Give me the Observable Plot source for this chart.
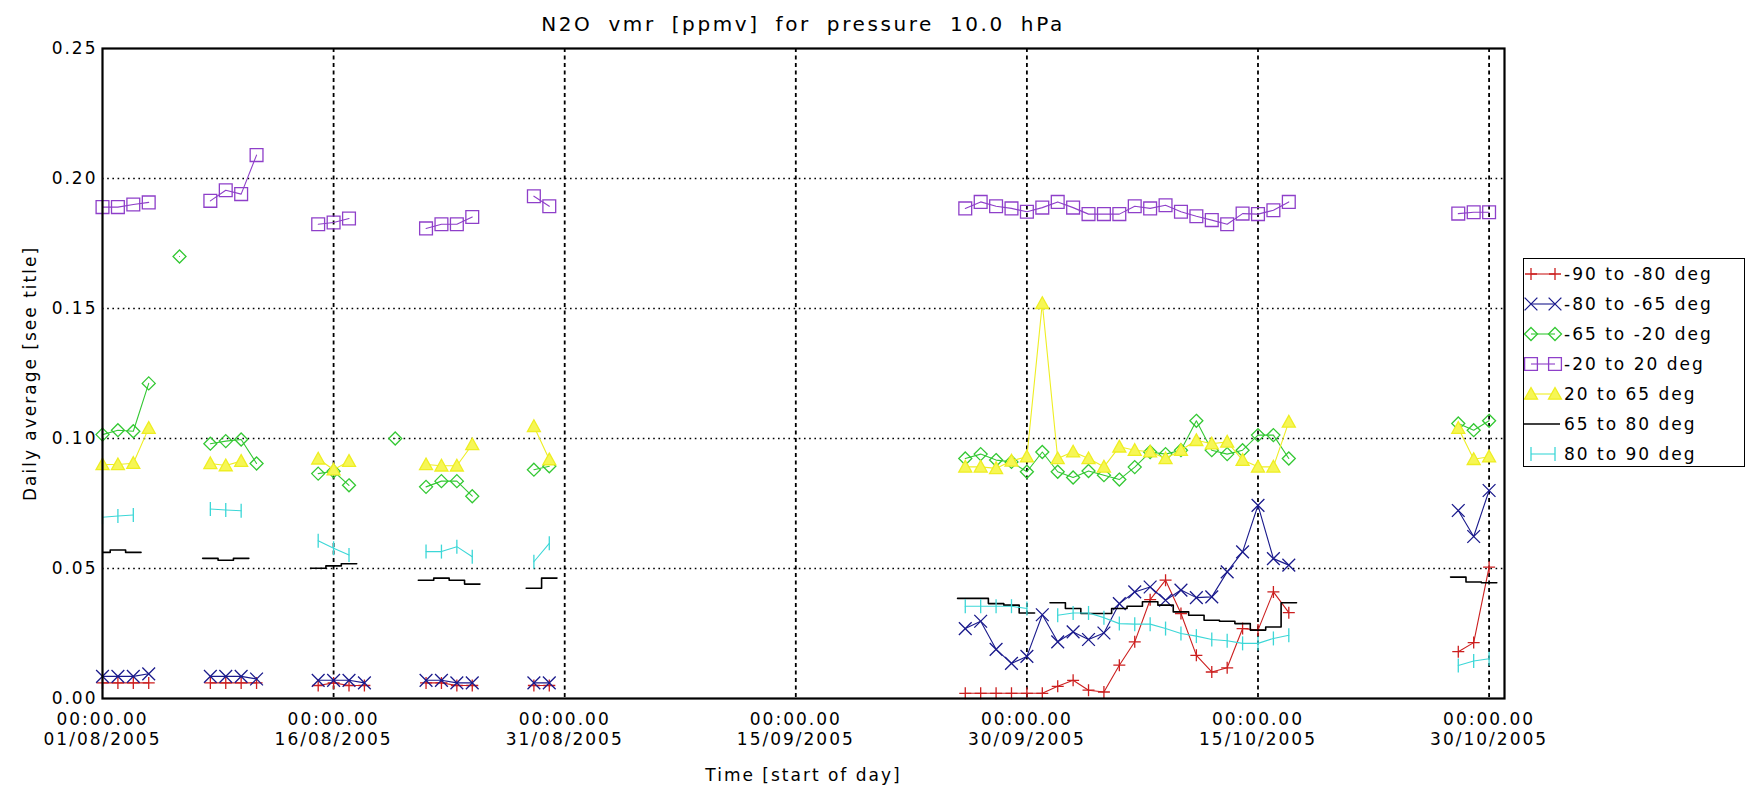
<!DOCTYPE html>
<html><head><meta charset="utf-8">
<script src="https://cdn.jsdelivr.net/npm/d3@7"></script>
<script src="https://cdn.jsdelivr.net/npm/@observablehq/plot@0.6"></script>
<style>
body{margin:0;background:#fff;}
#wrap{position:relative;width:1756px;height:787px;font-family:"DejaVu Sans",sans-serif;color:#000;overflow:hidden;}
#title{height:40px;box-sizing:border-box;padding-top:13px;margin-left:102px;width:1402px;text-align:center;font-size:20px;line-height:22px;letter-spacing:2.6px;word-spacing:7px;white-space:pre;}
#chart svg text{letter-spacing:2px;}
#legend{position:absolute;left:1523px;top:258px;width:222px;height:209px;border:1.5px solid #000;box-sizing:border-box;font-size:17px;letter-spacing:2px;background:#fff;}
.row{position:absolute;left:0;height:30px;width:100%;}
.row svg{position:absolute;left:0;top:0;}
.row span{position:absolute;left:40px;top:0;line-height:30px;white-space:pre;}
</style></head>
<body>
<div id="wrap">
  <div id="title">N2O vmr [ppmv] for pressure 10.0 hPa</div>
  <div id="chart"></div>
  <div id="legend"></div>
</div>
<script>
// ---- data ----
const seriesNames = ["-90 to -80 deg", "-80 to -65 deg", "-65 to -20 deg", "-20 to 20 deg", "20 to 65 deg", "65 to 80 deg", "80 to 90 deg"];
const seriesColors = ["#cc1f1f", "#1a1a8c", "#33c833", "#8e3fc9", "#eeee22", "#000000", "#3cd7d7"];

// each entry: [first day of a run of consecutive daily values, values]
const lat90to80S = [
  ["2005-08-01", [0.006, 0.006, 0.006, 0.006]],
  ["2005-08-08", [0.006, 0.006, 0.006, 0.006]],
  ["2005-08-15", [0.005, 0.006, 0.005, 0.005]],
  ["2005-08-22", [0.006, 0.006, 0.005, 0.005]],
  ["2005-08-29", [0.005, 0.005]],
  ["2005-09-26", [0.002, 0.002, 0.002, 0.002, 0.002, 0.002, 0.0047, 0.007, 0.0032, 0.0025, 0.0128, 0.0218, 0.038, 0.0455, 0.0327, 0.0166, 0.0102, 0.0118, 0.0269, 0.0263, 0.041, 0.0330]],
  ["2005-10-28", [0.018, 0.0215, 0.0505]]
];
const lat80to65S = [
  ["2005-08-01", [0.0085, 0.0085, 0.0085, 0.0095]],
  ["2005-08-08", [0.0085, 0.0085, 0.0085, 0.0075]],
  ["2005-08-15", [0.007, 0.007, 0.007, 0.006]],
  ["2005-08-22", [0.007, 0.007, 0.006, 0.006]],
  ["2005-08-29", [0.006, 0.006]],
  ["2005-09-26", [0.0269, 0.0297, 0.0189, 0.0135, 0.0162, 0.0322, 0.0218, 0.0256, 0.0227, 0.0252, 0.0365, 0.041, 0.0429, 0.0378, 0.0417, 0.0388, 0.0391, 0.0487, 0.0564, 0.0743, 0.0538, 0.0513]],
  ["2005-10-28", [0.0723, 0.0623, 0.080]]
];
const lat65to20S = [
  ["2005-08-01", [0.1015, 0.1032, 0.1028, 0.1212]],
  ["2005-08-06", [0.170]],
  ["2005-08-08", [0.098, 0.099, 0.0996, 0.0904]],
  ["2005-08-15", [0.0865, 0.0874, 0.082]],
  ["2005-08-20", [0.100]],
  ["2005-08-22", [0.0814, 0.0836, 0.0836, 0.0778]],
  ["2005-08-29", [0.088, 0.0893]],
  ["2005-09-26", [0.0923, 0.094, 0.0917, 0.091, 0.0872, 0.0948, 0.0872, 0.085, 0.0875, 0.0859, 0.0842, 0.089, 0.0948, 0.094, 0.0955, 0.1068, 0.0955, 0.094, 0.0955, 0.1013, 0.1013, 0.0923]],
  ["2005-10-28", [0.1058, 0.1032, 0.1068]]
];
const lat20Sto20N = [
  ["2005-08-01", [0.189, 0.189, 0.190, 0.1908]],
  ["2005-08-08", [0.1914, 0.1955, 0.194, 0.209]],
  ["2005-08-15", [0.1824, 0.1831, 0.1846]],
  ["2005-08-22", [0.1808, 0.1824, 0.1824, 0.1852]],
  ["2005-08-29", [0.1932, 0.1893]],
  ["2005-09-26", [0.1885, 0.1910, 0.1893, 0.1885, 0.1872, 0.1888, 0.1910, 0.1888, 0.1863, 0.1863, 0.1863, 0.1893, 0.1885, 0.1897, 0.1872, 0.1855, 0.1840, 0.1824, 0.1865, 0.1863, 0.1878, 0.1910]],
  ["2005-10-28", [0.1865, 0.187, 0.187]]
];
const lat20to65N = [
  ["2005-08-01", [0.090, 0.090, 0.0905, 0.104]],
  ["2005-08-08", [0.0904, 0.0896, 0.0913]],
  ["2005-08-15", [0.0922, 0.088, 0.0913]],
  ["2005-08-22", [0.090, 0.0895, 0.0895, 0.0977]],
  ["2005-08-29", [0.1047, 0.0919]],
  ["2005-09-26", [0.0891, 0.0891, 0.0885, 0.0914, 0.093, 0.152, 0.0923, 0.0949, 0.0923, 0.0891, 0.0968, 0.0955, 0.0949, 0.0923, 0.0955, 0.0993, 0.098, 0.0987, 0.0917, 0.0891, 0.0891, 0.1064]],
  ["2005-10-28", [0.104, 0.092, 0.093]]
];
const lat65to80N = [
  ["2005-08-01", [0.0562, 0.0571, 0.0562]],
  ["2005-08-08", [0.0539, 0.0532, 0.0539]],
  ["2005-08-15", [0.0501, 0.051, 0.0518]],
  ["2005-08-22", [0.0455, 0.0463, 0.0455, 0.044]],
  ["2005-08-29", [0.0424, 0.0463]],
  ["2005-09-26", [0.0385, 0.0385, 0.0365, 0.0359, 0.0329]],
  ["2005-10-02", [0.0368, 0.0346, 0.0327, 0.0327, 0.0346, 0.0355, 0.0372, 0.0359, 0.0333, 0.032, 0.0301, 0.0297, 0.0288, 0.0263, 0.0275, 0.0368]],
  ["2005-10-28", [0.0467, 0.0448, 0.0445]]
];
const lat80to90N = [
  ["2005-08-01", [0.0697, 0.0702, 0.0706]],
  ["2005-08-08", [0.0729, 0.0725, 0.0722]],
  ["2005-08-15", [0.0607, 0.0578, 0.0552]],
  ["2005-08-22", [0.0565, 0.0565, 0.0584, 0.0545]],
  ["2005-08-29", [0.0526, 0.0597]],
  ["2005-09-26", [0.0355, 0.0355, 0.0355, 0.0355, 0.0346]],
  ["2005-10-02", [0.032, 0.0329, 0.0329, 0.0311, 0.0288, 0.0286, 0.0286, 0.0269, 0.025, 0.024, 0.0227, 0.0222, 0.0212, 0.0212, 0.0231, 0.0243]],
  ["2005-10-28", [0.0127, 0.0144, 0.0153]]
];

const xTickDates = ["2005-08-01", "2005-08-16", "2005-08-31", "2005-09-15", "2005-09-30", "2005-10-15", "2005-10-30"];
const yTicks = [0, 0.05, 0.10, 0.15, 0.20, 0.25];
const xDomain = ["2005-08-01", "2005-10-31"];

// ---- build ----
const allSeries = [lat90to80S, lat80to65S, lat65to20S, lat20Sto20N, lat20to65N, lat65to80N, lat80to90N];
const DAY = 864e5;

// custom marker shapes; radius taken from the dot size
const rad = s => Math.sqrt(s / Math.PI);
const symbols = {
  plus: {draw(c, s) { const r = rad(s); c.moveTo(-r, 0); c.lineTo(r, 0); c.moveTo(0, -r); c.lineTo(0, r); }},
  times: {draw(c, s) { const r = rad(s) * 0.75; c.moveTo(-r, -r); c.lineTo(r, r); c.moveTo(-r, r); c.lineTo(r, -r); }},
  diamond: {draw(c, s) { const r = rad(s); c.moveTo(0, -r); c.lineTo(r, 0); c.lineTo(0, r); c.lineTo(-r, 0); c.closePath(); }},
  square: {draw(c, s) { const r = rad(s) * 0.8; c.rect(-r, -r, 2 * r, 2 * r); }},
  triangle: {draw(c, s) { const r = rad(s); c.moveTo(0, -r); c.lineTo(r, r * 0.8); c.lineTo(-r, r * 0.8); c.closePath(); }},
  vbar: {draw(c, s) { const r = rad(s); c.moveTo(0, -r); c.lineTo(0, r); }}
};
const seriesSymbol = [symbols.plus, symbols.times, symbols.diamond, symbols.square, symbols.triangle, null, symbols.vbar];
const seriesR = [6, 8.5, 6.5, 8, 6.5, 0, 7];
const seriesFill = ["none", "none", "none", "none", "#f6f655", "none", "none"];

function toRows(segs, si) {
  const out = [];
  segs.forEach(([start, vals], k) => {
    const t0 = new Date(start).getTime();
    vals.forEach((v, i) => out.push({s: si, key: si + "-" + k, date: new Date(t0 + i * DAY), value: v}));
  });
  return out;
}
// histogram-style (step) rows: half a day extension at both ends of each run
function toStepRows(segs, si) {
  const out = [];
  segs.forEach(([start, vals], k) => {
    const t0 = new Date(start).getTime();
    const key = si + "-" + k;
    out.push({key, date: new Date(t0 - DAY / 2), value: vals[0]});
    vals.forEach((v, i) => out.push({key, date: new Date(t0 + i * DAY), value: v}));
    out.push({key, date: new Date(t0 + (vals.length - 0.5) * DAY), value: vals[vals.length - 1]});
  });
  return out;
}

const marks = [
  Plot.ruleY(yTicks.filter(v => v > 0 && v < 0.25), {stroke: "#000", strokeWidth: 1.3, strokeDasharray: "1.6,3.6"}),
  Plot.ruleX(xTickDates.slice(1).map(d => new Date(d)), {stroke: "#000", strokeWidth: 1.8, strokeDasharray: "4,3.5"})
];
allSeries.forEach((segs, si) => {
  const color = seriesColors[si];
  if (seriesSymbol[si] === null) {
    marks.push(Plot.line(toStepRows(segs, si), {x: "date", y: "value", z: "key", stroke: color, strokeWidth: 1.6, curve: "step", clip: true}));
  } else {
    const rows = toRows(segs, si);
    marks.push(Plot.line(rows, {x: "date", y: "value", z: "key", stroke: color, strokeWidth: 1.1, clip: true}));
    marks.push(Plot.dot(rows, {x: "date", y: "value", symbol: seriesSymbol[si], r: seriesR[si], stroke: color, fill: seriesFill[si], strokeWidth: 1.3}));
  }
});
marks.push(Plot.frame({stroke: "#000", strokeWidth: 2.2}));
marks.push(Plot.axisY({ticks: yTicks, tickSize: 0, tickPadding: 5, tickFormat: d3.format(".2f"),
  label: "Daily average [see title]", labelAnchor: "center", labelOffset: 79, labelArrow: "none", fontSize: 17}));
marks.push(Plot.axisX({ticks: xTickDates.map(d => new Date(d)), tickSize: 0, tickPadding: 12,
  tickFormat: d => "00:00.00\n" + d3.utcFormat("%d/%m/%Y")(d), lineHeight: 1.18,
  label: "Time [start of day]", labelAnchor: "center", labelOffset: 82, labelArrow: "none", fontSize: 17}));

const chart = Plot.plot({
  width: 1756, height: 747,
  marginLeft: 102, marginRight: 252, marginTop: 8, marginBottom: 89,
  style: {fontFamily: "DejaVu Sans", fontSize: "17px", background: "white", color: "black", overflow: "visible"},
  x: {type: "utc", domain: xDomain.map(d => new Date(d))},
  y: {domain: [0, 0.25]},
  marks
});
document.getElementById("chart").appendChild(chart);

// ---- legend ----
const legend = document.getElementById("legend");
seriesNames.forEach((name, si) => {
  const row = document.createElement("div");
  row.className = "row";
  row.style.top = (si * 30 + 0) + "px";
  const color = seriesColors[si];
  let svg = `<svg width="40" height="30">`;
  if (seriesSymbol[si] === null) {
    svg += `<line x1="0" x2="36" y1="15" y2="15" stroke="${color}" stroke-width="1.6"/>`;
  } else {
    svg += `<line x1="7" x2="31" y1="15" y2="15" stroke="${color}" stroke-width="1.1"/>`;
    const p = d3.symbol(seriesSymbol[si], Math.PI * seriesR[si] ** 2)();
    for (const cx of [7, 31]) svg += `<path transform="translate(${cx},15)" d="${p}" stroke="${color}" fill="${seriesFill[si]}" stroke-width="1.3"/>`;
  }
  svg += `</svg>`;
  row.innerHTML = svg + `<span>${name}</span>`;
  legend.appendChild(row);
});
</script>
</body></html>
